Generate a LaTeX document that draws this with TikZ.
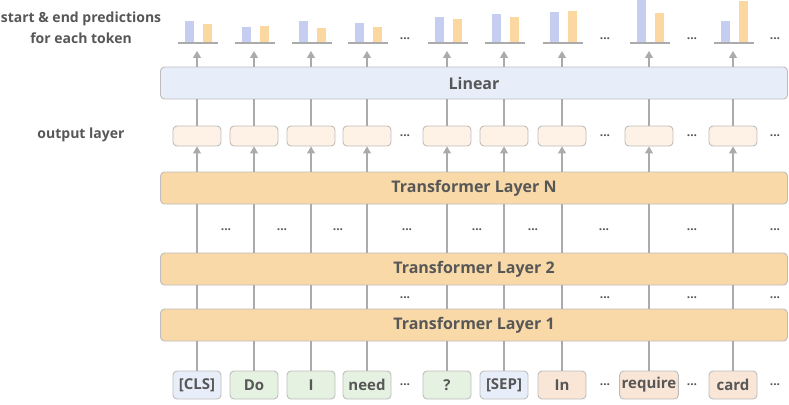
\documentclass[tikz,border=0pt]{standalone}
\usepackage{fontspec}
\setmainfont{Open Sans}
\usetikzlibrary{arrows.meta, positioning, calc}
\definecolor{txtgray}{HTML}{575757}
\definecolor{bordergray}{HTML}{BDBDBD}
\definecolor{linegray}{HTML}{ABABAB}
\definecolor{layerfill}{HTML}{F9D9A7}
\definecolor{linfill}{HTML}{E8EEF9}
\definecolor{outfill}{HTML}{FEF2E6}
\definecolor{specfill}{HTML}{E8EEF9}
\definecolor{qfill}{HTML}{E6F2E1}
\definecolor{ctxfill}{HTML}{F9E6D6}
\definecolor{barblue}{HTML}{C5CEF0}
\definecolor{barorange}{HTML}{FBD8A0}
\tikzset{
  box/.style={draw=bordergray, line width=0.9pt, rounded corners=4pt, text=txtgray},
  layer/.style={box, fill=layerfill, minimum width=627pt, minimum height=32pt, font=\fontsize{16}{16}\selectfont\bfseries},
  linear/.style={layer, fill=linfill},
  outbox/.style={box, fill=outfill, minimum width=48pt, minimum height=20pt},
  token/.style={box, minimum width=48pt, minimum height=28pt, inner xsep=2pt, font=\fontsize{15}{15}\selectfont\bfseries},
  conn/.style={draw=linegray, line width=1.1pt},
  up/.style={conn, -{Triangle[width=8pt, length=7pt]}},
  dots/.style={text=txtgray, font=\fontsize{12}{12}\selectfont\bfseries},
  side/.style={text=txtgray, font=\fontsize{14}{21}\selectfont\bfseries, align=center},
}

\begin{document}
\begin{tikzpicture}[x=1pt, y=-1pt]
  \useasboundingbox (0,0) rectangle (789,404);

  \node[side] (pred) at (81,28) {start \& end predictions\\for each token};
  \node[side] (outlbl) at (81,135) {output layer};

  \node[linear] (lin) at (474,83) {Linear};
  \node[layer] (lN) at (474,188) {Transformer Layer N};
  \node[layer] (l2) at (474,269) {Transformer Layer 2};
  \node[layer] (l1) at (474,325) {Transformer Layer 1};

  % input tokens
  \foreach \i/\x/\t/\c in {1/197/{[CLS]}/specfill, 2/254/Do/qfill, 3/311/I/qfill,
      4/367/need/qfill, 5/447/?/qfill, 6/504/{[SEP]}/specfill, 7/562/In/ctxfill,
      8/649/require/ctxfill, 9/733/card/ctxfill}
    \node[token, fill=\c] (tok\i) at (\x,385) {\t};

  % columns: connectors, output boxes and predictions
  \foreach \i/\x/\b/\o in {1/197/22/19, 2/254/16/17, 3/311/22/15, 4/367/20/16,
      5/447/26/24, 6/504/29/26, 7/562/31/32, 8/649/43/30, 9/733/22/42} {
    \node[outbox] (out\i) at (\x,136) {};
    \coordinate (top\i) at (\x,51);
    \draw[conn] (tok\i.north) -- (tok\i.north |- l1.south);
    \draw[conn] (tok\i.north |- l1.north) -- (tok\i.north |- l2.south);
    \draw[conn] (tok\i.north |- l2.north) -- (tok\i.north |- lN.south);
    \draw[up] (out\i.south |- lN.north) -- (out\i.south);
    \draw[conn] (out\i.north) -- (out\i.north |- lin.south);
    \draw[up] (out\i.north |- lin.north) -- (top\i);
    \fill[barblue] (\x-12,43) rectangle (\x-3,43-\b);
    \fill[barorange] (\x+6,43) rectangle (\x+15,43-\o);
    \draw[linegray, line width=2pt] (\x-19,43) -- (\x+21,43);
  }

  % ellipses
  \foreach \x in {405,605,692,775} {
    \node[dots] at (\x,39) {...};
    \node[dots] at (\x,136) {...};
    \node[dots] at (\x,298) {...};
    \node[dots] at (\x,385) {...};
  }
  \foreach \x in {226,282,338,407,477,533,604,692,775}
    \node[dots] at (\x,230) {...};
\end{tikzpicture}
\end{document}
